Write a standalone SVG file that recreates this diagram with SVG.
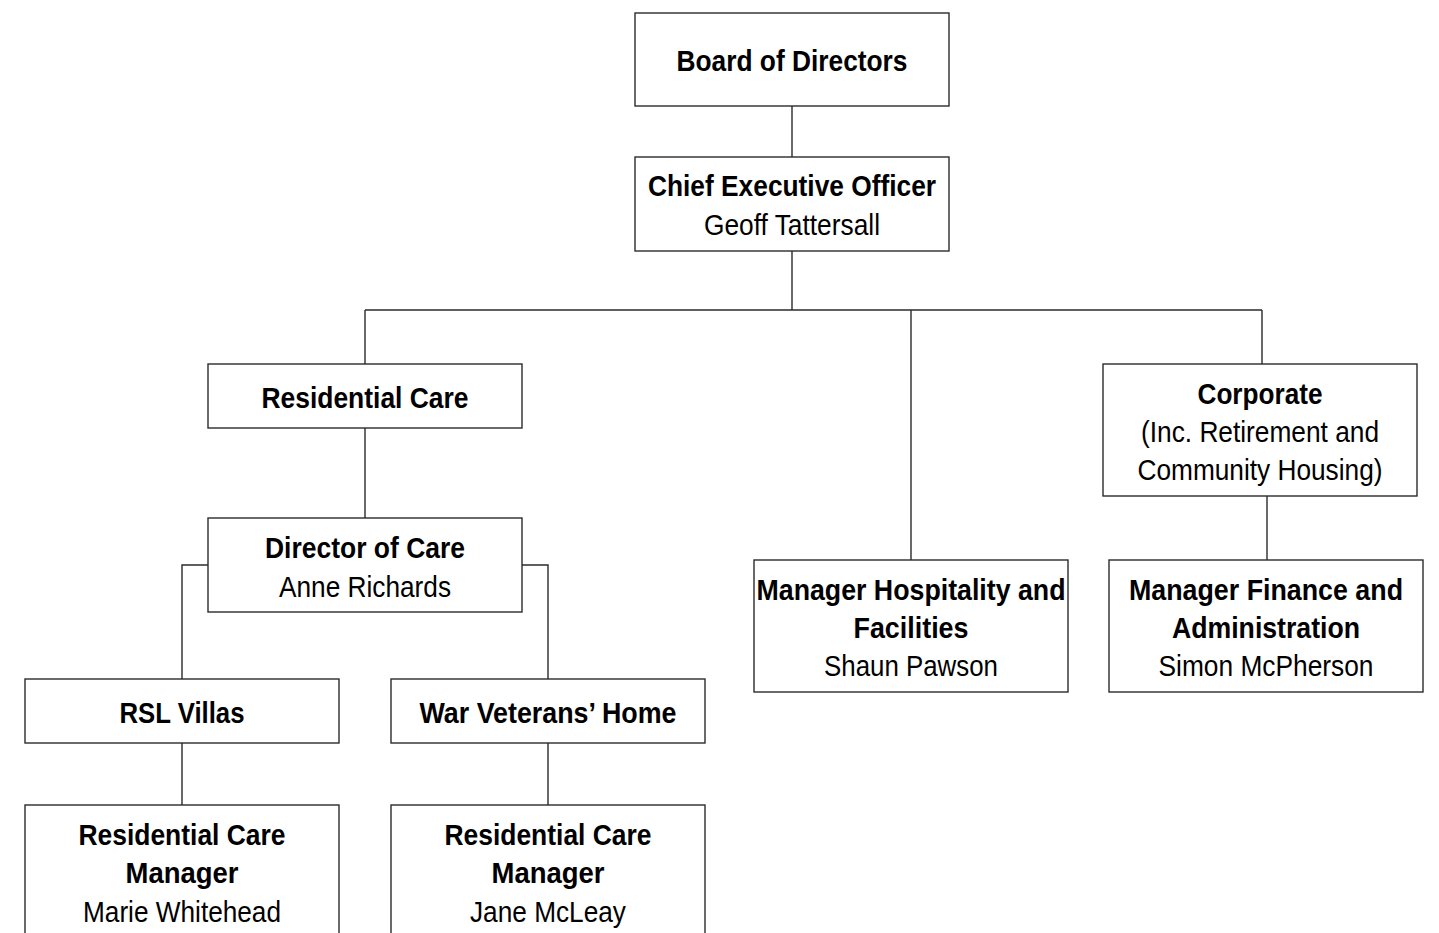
<svg xmlns="http://www.w3.org/2000/svg" width="1439" height="933" viewBox="0 0 1439 933">
<style>
.box{fill:#fff;stroke:#2b2b2b;stroke-width:1.4}
.ln{fill:none;stroke:#2b2b2b;stroke-width:1.4}
text{font-family:"Liberation Sans",Arial,sans-serif;font-size:29px;fill:#000;text-anchor:middle}
.b{font-weight:bold}
</style>
<rect width="1439" height="933" fill="#fff"/>
<g id="connectors">
<path class="ln" d="M792 106V157M792 251V310M365 310H1262M365 310V364M911 310V560M1262 310V364M365 428V518M208 565H182V679M522 565H548V679M182 743V805M548 743V805M1267 496V560"/>
</g>
<g id="board"><rect class="box" x="635" y="13" width="314" height="93"/><text class="b" x="792" y="71" textLength="231" lengthAdjust="spacingAndGlyphs">Board of Directors</text></g>
<g id="ceo"><rect class="box" x="635" y="157" width="314" height="94"/><text class="b" x="792" y="196" textLength="288" lengthAdjust="spacingAndGlyphs">Chief Executive Officer</text><text x="792" y="235" textLength="176" lengthAdjust="spacingAndGlyphs">Geoff Tattersall</text></g>
<g id="residential"><rect class="box" x="208" y="364" width="314" height="64"/><text class="b" x="365" y="408" textLength="207" lengthAdjust="spacingAndGlyphs">Residential Care</text></g>
<g id="corporate"><rect class="box" x="1103" y="364" width="314" height="132"/><text class="b" x="1260" y="404" textLength="125" lengthAdjust="spacingAndGlyphs">Corporate</text><text x="1260" y="442" textLength="238" lengthAdjust="spacingAndGlyphs">(Inc. Retirement and</text><text x="1260" y="480" textLength="245" lengthAdjust="spacingAndGlyphs">Community Housing)</text></g>
<g id="director"><rect class="box" x="208" y="518" width="314" height="94"/><text class="b" x="365" y="558" textLength="200" lengthAdjust="spacingAndGlyphs">Director of Care</text><text x="365" y="597" textLength="172" lengthAdjust="spacingAndGlyphs">Anne Richards</text></g>
<g id="hospitality"><rect class="box" x="754" y="560" width="314" height="132"/><text class="b" x="911" y="600" textLength="309" lengthAdjust="spacingAndGlyphs">Manager Hospitality and</text><text class="b" x="911" y="638" textLength="115" lengthAdjust="spacingAndGlyphs">Facilities</text><text x="911" y="676" textLength="174" lengthAdjust="spacingAndGlyphs">Shaun Pawson</text></g>
<g id="finance"><rect class="box" x="1109" y="560" width="314" height="132"/><text class="b" x="1266" y="600" textLength="274" lengthAdjust="spacingAndGlyphs">Manager Finance and</text><text class="b" x="1266" y="638" textLength="188" lengthAdjust="spacingAndGlyphs">Administration</text><text x="1266" y="676" textLength="215" lengthAdjust="spacingAndGlyphs">Simon McPherson</text></g>
<g id="rsl"><rect class="box" x="25" y="679" width="314" height="64"/><text class="b" x="182" y="723" textLength="125" lengthAdjust="spacingAndGlyphs">RSL Villas</text></g>
<g id="warvet"><rect class="box" x="391" y="679" width="314" height="64"/><text class="b" x="548" y="723" textLength="257" lengthAdjust="spacingAndGlyphs">War Veterans’ Home</text></g>
<g id="rcm1"><rect class="box" x="25" y="805" width="314" height="140"/><text class="b" x="182" y="845" textLength="207" lengthAdjust="spacingAndGlyphs">Residential Care</text><text class="b" x="182" y="883" textLength="113" lengthAdjust="spacingAndGlyphs">Manager</text><text x="182" y="922" textLength="198" lengthAdjust="spacingAndGlyphs">Marie Whitehead</text></g>
<g id="rcm2"><rect class="box" x="391" y="805" width="314" height="140"/><text class="b" x="548" y="845" textLength="207" lengthAdjust="spacingAndGlyphs">Residential Care</text><text class="b" x="548" y="883" textLength="113" lengthAdjust="spacingAndGlyphs">Manager</text><text x="548" y="922" textLength="156" lengthAdjust="spacingAndGlyphs">Jane McLeay</text></g>
</svg>
